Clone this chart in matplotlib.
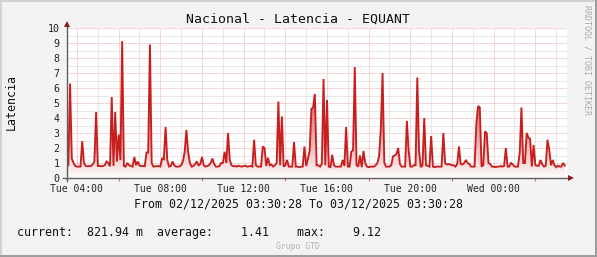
import numpy as np
import matplotlib
matplotlib.use("Agg")
import matplotlib.pyplot as plt
import matplotlib.dates as mdates
from matplotlib.colors import to_rgb
from matplotlib.lines import Line2D
from datetime import datetime, timedelta

# ---------------- data ----------------
title = "Nacional - Latencia - EQUANT"
ylabel = "Latencia"
watermark = "RRDTOOL / TOBI OETIKER"
footer = "Grupo GTD"
start = datetime(2025, 12, 2, 3, 30, 28)
end = datetime(2025, 12, 3, 3, 30, 28)
step_minutes = 5

latency = [
    0.76, 0.85, 6.3, 1.3, 1.0, 0.8, 0.76, 0.76, 0.76, 2.45, 1.0, 0.8,
    0.78, 0.8, 0.8, 0.9, 1.1, 4.4, 0.8, 0.8, 0.78, 0.8, 0.85, 1.1,
    1.0, 0.78, 5.4, 0.8, 4.4, 1.1, 2.9, 1.2, 9.12, 0.8, 0.76, 1.0,
    0.85, 0.8, 0.76, 1.4, 0.85, 1.1, 0.82, 0.8, 0.8, 0.78, 1.7, 1.7,
    8.9, 1.0, 0.76, 0.78, 0.78, 0.8, 0.76, 1.3, 1.25, 3.4, 1.2, 0.76,
    0.8, 1.1, 0.85, 0.76, 0.76, 0.78, 0.85, 1.1, 1.75, 3.2, 1.75, 1.0,
    0.76, 0.8, 0.93, 1.1, 0.85, 0.93, 1.4, 0.85, 0.76, 0.8, 0.85, 1.0,
    1.3, 0.93, 0.76, 0.76, 0.8, 1.0, 1.0, 1.75, 1.0, 3.0, 1.2, 0.85,
    0.78, 0.8, 0.76, 0.82, 0.78, 0.76, 0.8, 0.82, 0.76, 0.78, 0.8, 0.76,
    2.55, 0.85, 0.76, 0.76, 0.76, 2.1, 2.0, 0.8, 1.35, 0.85, 0.9, 0.76,
    0.85, 1.0, 5.1, 0.85, 4.1, 0.76, 0.85, 1.2, 0.76, 0.76, 0.76, 2.4,
    0.76, 0.76, 0.72, 0.76, 0.76, 2.1, 0.8, 1.3, 1.8, 4.6, 4.7, 5.6,
    0.85, 0.85, 0.76, 0.93, 6.6, 0.85, 5.2, 0.76, 0.72, 1.55, 0.85, 0.76,
    0.76, 0.76, 0.76, 1.2, 0.8, 3.4, 0.76, 0.76, 1.75, 1.85, 7.4, 0.85,
    0.76, 1.5, 0.72, 1.8, 1.0, 0.76, 0.72, 0.76, 0.76, 0.76, 0.85, 1.0,
    1.45, 3.3, 7.0, 1.0, 0.76, 0.76, 0.76, 0.85, 1.45, 1.5, 1.6, 2.0,
    0.93, 0.76, 0.76, 0.76, 3.8, 1.85, 0.76, 0.76, 0.85, 0.85, 6.7, 1.85,
    0.72, 0.85, 4.0, 0.85, 0.82, 0.76, 2.8, 0.76, 0.72, 0.76, 0.76, 0.76,
    0.76, 3.0, 1.0, 0.9, 0.93, 0.9, 0.85, 0.85, 0.76, 0.93, 2.1, 0.93,
    0.9, 1.0, 1.2, 1.0, 0.93, 0.76, 0.76, 0.76, 3.6, 4.8, 4.7, 0.76,
    0.85, 3.1, 3.0, 1.0, 0.93, 0.76, 0.76, 0.72, 0.76, 0.76, 0.8, 0.76,
    0.8, 2.0, 0.76, 0.76, 1.0, 0.9, 0.76, 0.76, 0.76, 1.7, 4.7, 1.0,
    1.0, 3.0, 2.7, 2.6, 0.76, 2.2, 0.85, 0.82, 0.82, 1.2, 0.9, 0.76,
    0.82, 2.55, 1.9, 0.85, 1.2, 0.85, 0.72, 0.82, 0.76, 0.76, 1.0, 0.82,
]

yticks = [0, 1, 2, 3, 4, 5, 6, 7, 8, 9, 10]
ymax = 10
xtick_times = [datetime(2025, 12, 2, 4), datetime(2025, 12, 2, 8), datetime(2025, 12, 2, 12),
               datetime(2025, 12, 2, 16), datetime(2025, 12, 2, 20), datetime(2025, 12, 3, 0)]

current_val = 821.94
current_unit = "m"
average_val = 1.41
max_val = 9.12

# ---------------- styling ----------------
MONO = "DejaVu Sans Mono"
plt.rcParams["font.family"] = [MONO, "DejaVu Sans"]
LINE_C = "#c81e1e"
TOP_C = "#c42020"
MGRID = "#f3aeae"
GRID = "#d2d2d2"
AXIS_C = "#5e5e5e"
ARROW_C = "#8c1c1c"
BG = "#f3f3f3"

W, H = 597, 257
fig = plt.figure(figsize=(W / 100, H / 100), dpi=100, facecolor=BG)

x_left, x_right = 66.6, 566.6
y_bottom, y_top = 178.0, 28.0
ax = fig.add_axes([x_left / W, (H - y_bottom) / H, (x_right - x_left) / W, (y_bottom - y_top) / H])
ax.set_facecolor("white")

times = [start + timedelta(minutes=step_minutes * i) for i in range(len(latency))]
tnum = mdates.date2num(times)
vals = np.array(latency)
x0, x1 = mdates.date2num(start), mdates.date2num(end)

dot = (0, (1, 1))
# horizontal grid
for k in range(1, 2 * ymax + 1):
    v = k / 2
    if k % 2 == 0:
        ax.axhline(v, color=MGRID, lw=0.72, ls=dot, zorder=1)
    else:
        ax.axhline(v, color=GRID, lw=0.72, ls=dot, zorder=1)
# vertical grid
hour = datetime(2025, 12, 2, 4)
major_ticks = []
while hour < end:
    xv = mdates.date2num(hour)
    if hour.hour % 2 == 0:
        ax.axvline(xv, color=MGRID, lw=0.72, ls=dot, zorder=1)
        major_ticks.append(xv)
    else:
        ax.axvline(xv, color=GRID, lw=0.72, ls=dot, zorder=1)
    hour += timedelta(hours=1)

# gradient area
poly = ax.fill_between(tnum, 0, vals, facecolor="none", edgecolor="none", zorder=2)
g = np.clip(np.linspace(0, 1.15, 256), 0, 1) ** 0.85
g = g.reshape(-1, 1, 1)
c0 = np.array([1.0, 1.0, 1.0])
c1 = np.array(to_rgb(TOP_C))
img = c0 + (c1 - c0) * g
im = ax.imshow(img, extent=[x0, x1, 0, ymax], origin="lower", aspect="auto",
               interpolation="bilinear", zorder=2)
im.set_clip_path(poly.get_paths()[0], transform=ax.transData)

ax.plot(tnum, vals, color=LINE_C, lw=1.35, zorder=3, solid_joinstyle="miter")

ax.set_xlim(x0, x1)
ax.set_ylim(0, ymax)
for s in ax.spines.values():
    s.set_visible(False)

ax.set_yticks(yticks)
ax.set_yticklabels([str(t) for t in yticks], fontsize=7.2, family=MONO, color="#222222")
ax.set_xticks([mdates.date2num(t) for t in xtick_times])
ax.set_xticklabels([t.strftime("%a %H:%M") for t in xtick_times], fontsize=7.0, family=MONO, color="#222222")
ax.tick_params(axis="both", which="major", length=0)
ax.tick_params(axis="y", pad=5.2)
ax.tick_params(axis="x", pad=4.6)
ax.set_xticks(major_ticks, minor=True)
ax.tick_params(axis="x", which="minor", length=2.4, width=0.8, color="#e06a6a", direction="out")

# axes with arrows
tr = ax.transAxes
ax.add_line(Line2D([-0.007, 1.006], [0, 0], transform=tr, color=AXIS_C, lw=1.0, clip_on=False, zorder=5))
ax.add_line(Line2D([0, 0], [-0.022, 1.025], transform=tr, color=AXIS_C, lw=1.0, clip_on=False, zorder=5))
ax.plot([1.009], [0], marker=">", ms=4.0, color=ARROW_C, transform=tr, clip_on=False, zorder=6, mew=0)
ax.plot([0], [1.03], marker="^", ms=4.0, color=ARROW_C, transform=tr, clip_on=False, zorder=6, mew=0)

# texts
fig.text(297.7 / W, 1 - 19.3 / H, title, ha="center", va="center", fontsize=9.5, family=MONO, color="#111111")
fig.text(11.5 / W, 1 - 102 / H, ylabel, rotation=90, ha="center", va="center", fontsize=8.4, family=MONO, color="#111111")
fig.text(587.3 / W, 1 - 60 / H, watermark, rotation=270, ha="center", va="center", fontsize=6.0, family=MONO, color="#aaaaaa")
fig.text(298.8 / W, 1 - 204 / H,
         "From %s To %s" % (start.strftime("%d/%m/%Y %H:%M:%S"), end.strftime("%d/%m/%Y %H:%M:%S")),
         ha="center", va="center", fontsize=8.4, family=MONO, color="#111111")
legend = f"current:  {current_val:6.2f} {current_unit}  average:{average_val:8.2f}    max:{max_val:8.2f}"
fig.text(16.7 / W, 1 - 232.3 / H, legend, ha="left", va="center", fontsize=8.4, family=MONO, color="#111111")
fig.text(298 / W, 1 - 246.5 / H, footer, ha="center", va="center", fontsize=5.9, family=MONO, color="#b4b4b4")

# frame
fig.add_artist(Line2D([0, 1], [1 - 1 / H, 1 - 1 / H], transform=fig.transFigure, color="#d2d2d2", lw=1.5))
fig.add_artist(Line2D([1 / W, 1 / W], [0, 1], transform=fig.transFigure, color="#d2d2d2", lw=1.5))
fig.add_artist(Line2D([0, 1], [1.5 / H, 1.5 / H], transform=fig.transFigure, color="#9e9e9e", lw=2.2))
fig.add_artist(Line2D([1 - 1.5 / W, 1 - 1.5 / W], [0, 1], transform=fig.transFigure, color="#9e9e9e", lw=2.2))

fig.savefig("out.png", dpi=100, facecolor=BG)
